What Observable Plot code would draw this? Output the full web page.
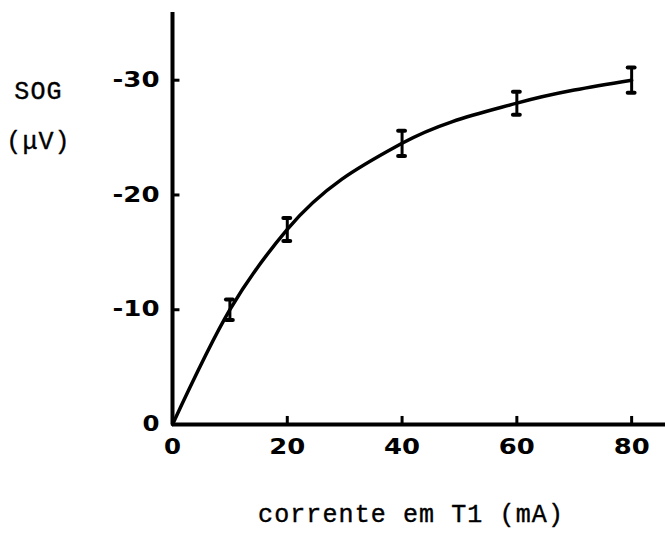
<!DOCTYPE html>
<html>
<head>
<meta charset="utf-8">
<script src="https://cdn.jsdelivr.net/npm/d3@7"></script>
<script src="https://cdn.jsdelivr.net/npm/@observablehq/plot@0.6"></script>
<style>
  html, body { margin: 0; padding: 0; background: #fff; }
  #chart svg { display: block; }
</style>
</head>
<body>
<div id="chart"></div>
<script>
// Measured SOG response versus current in T1
const currents = [10, 20, 40, 60, 80];          // mA
const signals  = [-10, -17, -24.5, -28, -30];   // µV
const errors   = [0.9, 1.0, 1.1, 1.0, 1.1];     // µV, half-width of error bar

// Fitted curve passes through the origin
const curveCurrents = [0, ...currents];
const curveSignals  = [0, ...signals];

const xTicks = [0, 20, 40, 60, 80];
const yTicks = [0, -10, -20, -30];

const yTitle = ["SOG", "(\u03BCV)"];
const xTitle = "corrente em T1 (mA)";

const points = currents.map((x, i) => ({x, y: signals[i], e: errors[i]}));
const curve = curveCurrents.map((x, i) => ({x, y: curveSignals[i]}));

const mono = "Liberation Mono, DejaVu Sans Mono, monospace";
const bold = "DejaVu Sans, sans-serif";

const chart = Plot.plot({
  width: 665,
  height: 536,
  marginLeft: 172,
  marginRight: 0,
  marginTop: 12,
  marginBottom: 112,
  style: {fontFamily: bold, background: "#fff", color: "#000"},
  x: {domain: [0, 85.9]},
  y: {domain: [0, -35.9]},
  marks: [
    // axis lines
    Plot.ruleX([0], {stroke: "#000", strokeWidth: 4}),
    Plot.ruleY([0], {stroke: "#000", strokeWidth: 4}),
    // inward tick marks
    Plot.ruleY(yTicks.filter(v => v !== 0), {y: d => d, x1: 0, x2: 1.3, stroke: "#000", strokeWidth: 3}),
    Plot.ruleX(xTicks.filter(v => v !== 0), {x: d => d, y1: 0, y2: -0.7, stroke: "#000", strokeWidth: 3}),
    // tick labels
    Plot.axisY(yTicks, {tickSize: 0, tickPadding: 13, tickFormat: d => String(d), label: null}),
    Plot.axisX(xTicks, {tickSize: 0, tickPadding: 15, tickFormat: d => String(d), label: null}),
    // fitted curve
    Plot.line(curve, {x: "x", y: "y", curve: "monotone-x", stroke: "#000", strokeWidth: 3.5}),
    // error bars with caps
    Plot.ruleX(points, {x: "x", y1: d => d.y - d.e, y2: d => d.y + d.e, stroke: "#000", strokeWidth: 3}),
    Plot.ruleY(points, {y: d => d.y - d.e, x1: d => d.x - 0.6, x2: d => d.x + 0.6, stroke: "#000", strokeWidth: 4, strokeLinecap: "round"}),
    Plot.ruleY(points, {y: d => d.y + d.e, x1: d => d.x - 0.6, x2: d => d.x + 0.6, stroke: "#000", strokeWidth: 4, strokeLinecap: "round"}),
    // axis titles
    Plot.text([yTitle[0]], {frameAnchor: "top-left", dx: -134, dy: 69, text: d => d,
      fontFamily: mono, fontSize: 25, fill: "#000", stroke: "#000", strokeWidth: 0.4,
      textAnchor: "middle", className: "title-text"}),
    Plot.text([yTitle[1]], {frameAnchor: "top-left", dx: -134, dy: 119, text: d => d,
      fontFamily: mono, fontSize: 25, fill: "#000", stroke: "#000", strokeWidth: 0.4,
      textAnchor: "middle", className: "title-text"}),
    Plot.text([xTitle], {frameAnchor: "bottom", dx: -8, dy: 97, text: d => d,
      fontFamily: mono, fontSize: 25, fill: "#000", stroke: "#000", strokeWidth: 0.4,
      textAnchor: "middle", className: "title-text"})
  ]
});

// typewriter-style spacing for the titles
d3.select(chart).selectAll(".title-text text").style("letter-spacing", "1.1px");

// heavy, wide stencil-like numerals for the tick labels: stretch each glyph
const digitWidth = 17, digitGap = 2, dashWidth = 11;
d3.select(chart)
  .selectAll("g[aria-label='y-axis tick label'] text, g[aria-label='x-axis tick label'] text")
  .each(function() {
    const s = this.textContent;
    const digits = s.replace("-", "").length;
    const len = digits * digitWidth + (digits - 1) * digitGap + (s.startsWith("-") ? dashWidth : 0);
    d3.select(this)
      .style("font-family", bold)
      .style("font-weight", "bold")
      .style("font-size", "21px")
      .attr("textLength", len)
      .attr("lengthAdjust", "spacingAndGlyphs");
  });

document.getElementById("chart").appendChild(chart);
</script>
</body>
</html>
